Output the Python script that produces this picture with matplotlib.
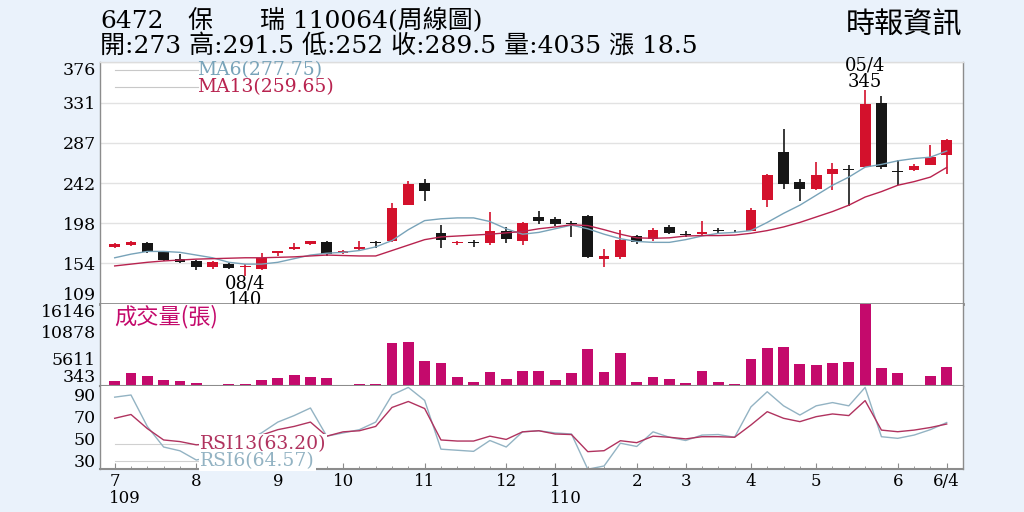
import numpy as np
import matplotlib as mpl
from matplotlib import pyplot as plt

plt.rcParams['font.family'] = ['DejaVu Serif', 'Noto Sans CJK TC']
plt.rcParams['axes.linewidth'] = 1.0

# weekly candles, 2020/07 .. 2021/06/04
opens = [172, 174, 176, 166, 158.5, 156, 150, 153.5, 150, 148, 165, 169.5, 175, 177.5, 165, 170,
         176.5, 178, 218.5, 242, 187, 176.5, 177, 176, 190, 178, 205, 202.5, 198, 206, 159, 160.5,
         183.5, 180.5, 194.5, 186, 186, 190.5, 189.5, 190, 224, 276.5, 243.5, 235.5, 252.5, 257.5,
         260.5, 330.5, 255.5, 257, 262.5, 273]
highs = [176, 179, 177, 166.5, 164, 157, 156, 154, 153, 165, 168, 176, 179, 178.5, 168.5, 179,
         178, 220, 245, 247, 196, 179, 180, 210, 194, 200, 212, 205.5, 201, 207, 170, 191,
         185, 193, 196, 190, 201, 193, 191, 215, 252, 302, 247, 266, 265, 262,
         345, 338, 268, 264, 284.5, 291.5]
lows = [171, 173.5, 165, 156, 154, 147, 148, 147.5, 140, 147, 162, 169, 174, 162.5, 164, 169,
        171, 177.5, 218, 222.5, 171, 174.5, 171.5, 174, 176, 174.5, 197, 195, 183, 160, 150, 159,
        175.5, 179, 186, 183, 185.5, 187, 188, 189, 216, 236, 223, 234.5, 234.5, 217,
        260, 258, 240.5, 256, 262, 252]
closes = [175, 177.5, 166.5, 157.5, 155, 150, 155, 148.5, 150.5, 160, 167, 171.5, 178, 164.5, 168, 172,
          176, 215, 241.5, 234, 180, 177, 176.5, 189, 181, 198, 201, 197, 197.5, 160.5, 161.5, 180,
          177.5, 191, 187.5, 185.5, 188.5, 190, 189, 213, 251.5, 241.5, 235.5, 251.5, 258, 257,
          330, 260.5, 255, 261.5, 271, 289.5]

ma6 = [160, 164, 167, 167, 166, 163, 160, 155, 153, 153, 155, 159, 163, 165, 166, 168,
       172, 179, 191, 201, 203, 204, 204, 200, 192, 186, 188, 192, 196, 192, 186, 181,
       178, 177, 177, 180, 184, 187, 188, 190, 199, 209, 218, 229, 240, 249,
       260, 263, 267, 269.5, 271, 277.75]
ma13 = [151, 153, 155, 156.5, 157.5, 158.5, 159, 159.5, 160, 160, 160.5, 161, 162, 163, 162.5, 162,
        162, 168, 174, 180, 183, 184, 185, 186, 187.5, 189, 192, 194, 196.5, 195.5, 191, 186,
        182, 181.5, 182, 184, 184.5, 184.5, 185, 187, 190, 194, 199, 205, 211, 218,
        227, 233, 240, 244, 249, 259.65]

volume = [1306, 2790, 2328, 1441, 1306, 863, 535, 664, 664, 1499, 1827, 2463, 2077, 1885, 343, 664,
          664, 8571, 8880, 5218, 4833, 2020, 1056, 3099, 1692, 3234, 3234, 1441, 2790, 7415, 2983, 6644,
          1172, 2077, 1692, 863, 3291, 1172, 786, 5488, 7723, 7916, 4640, 4390, 4833, 5026,
          16146, 3869, 2790, 535, 2270, 4035]

rsi6 = [88, 90, 61, 42, 38.5, 30, 33, 40, 47, 55, 65, 71, 78, 52, 55, 58,
        65, 90, 97, 85, 40, 39, 38, 48, 42, 56, 57, 55, 54, 21.5, 24.5, 45.5,
        42.5, 56, 51, 48, 53, 53.5, 51, 79, 93, 80, 71.5, 80, 83, 80,
        97, 51.5, 50, 53, 58, 64.57]
rsi13 = [68.5, 72, 59, 48.5, 47, 44, 45, 47, 50, 53, 58, 61, 65, 52, 56, 57,
         61, 78.5, 84, 77.5, 48.5, 47.5, 47.5, 52, 49, 56, 57, 54, 53.5, 37.7, 38.6, 47.8,
         46, 52, 51, 49.5, 51.5, 51.5, 51, 62.3, 74.6, 68.5, 65.4, 70, 72.5, 71,
         84.8, 57.6, 56.1, 57.6, 60, 63.20]

month_pos = [0, 5, 10, 14, 19, 24, 27, 32, 35, 39, 43, 48, 51]
month_labels = ['7', '8', '9', '10', '11', '12', '1', '2', '3', '4', '5', '6', '6/4']
year_marks = [(0, '109'), (27, '110')]

price_ticks = [109, 154, 198, 242, 287, 331, 376]
vol_ticks = [343, 5611, 10878, 16146]
rsi_ticks = [30, 50, 70, 90]

red = '#d3112c'
black = '#161616'
c_ma6 = '#78a3b9'
c_ma13 = '#b8234f'
c_vol = '#c40a6c'
c_rsi13 = '#b0335f'
c_rsi6 = '#93b3c3'
spine_c = '#8c8c8c'
bg = '#eaf2fb'

fig = plt.figure(figsize=(10.24, 5.12), dpi=100, facecolor=bg)
W, H = 1024, 512
def box(l, t, r, b):
    return [l / W, (H - b) / H, (r - l) / W, (b - t) / H]

ax = fig.add_axes(box(100, 62, 963, 304))
axv = fig.add_axes(box(100, 304, 963, 386))
axr = fig.add_axes(box(100, 386, 963, 469))

x = np.arange(len(opens))
xlim = (-0.9, 52.0)

# price panel
for i in x:
    o, h, l, c = opens[i], highs[i], lows[i], closes[i]
    col = red if c >= o else black
    ax.vlines(i, l, h, color=col, lw=1.2, zorder=3)
    ax.bar(i, max(abs(c - o), 0.9), bottom=min(o, c), width=0.66, color=col, zorder=4)
ax.plot(x, ma6, color=c_ma6, lw=1.0, zorder=5)
ax.plot(x, ma13, color=c_ma13, lw=1.0, zorder=5)
ax.set_ylim(109, 376)
ax.set_yticks(price_ticks)
ax.grid(axis='y', color='#e2e2e2', lw=1.0)
ax.set_axisbelow(True)

ax.plot([0.017, 0.113], [0.967, 0.967], transform=ax.transAxes, color='#c8c8c8', lw=0.8)
ax.plot([0.017, 0.113], [0.897, 0.897], transform=ax.transAxes, color='#c8c8c8', lw=0.8)
ax.text(0.113, 0.967, 'MA6(277.75)', transform=ax.transAxes, color=c_ma6, fontsize=13.5, va='center')
ax.text(0.113, 0.897, 'MA13(259.65)', transform=ax.transAxes, color=c_ma13, fontsize=13.5, va='center')

ax.text(46, 363, '05/4\n345', ha='center', va='center', fontsize=13, linespacing=0.95, clip_on=False)
ax.text(8, 122.5, '08/4\n140', ha='center', va='center', fontsize=13, linespacing=0.95, clip_on=False)

# volume panel
axv.bar(x, np.array(volume) - vol_ticks[0], bottom=vol_ticks[0], width=0.66, color=c_vol)
axv.set_ylim(vol_ticks[0], vol_ticks[-1])
axv.set_yticks(vol_ticks)
axv.text(0.017, 0.85, '成交量(張)', transform=axv.transAxes, color=c_vol, fontsize=16,
         va='center', family=['Noto Sans CJK TC'])

# rsi panel
axr.plot(x, rsi6, color=c_rsi6, lw=1.0)
axr.plot(x, rsi13, color=c_rsi13, lw=1.0)
axr.set_ylim(21.7, 98.3)
axr.set_yticks(rsi_ticks)
axr.plot([0.017, 0.116], [0.30, 0.30], transform=axr.transAxes, color='#d0d0d0', lw=0.8, zorder=1)
axr.plot([0.017, 0.116], [0.096, 0.096], transform=axr.transAxes, color='#d0d0d0', lw=0.8, zorder=1)
axr.text(0.116, 0.30, 'RSI13(63.20)', transform=axr.transAxes, color=c_rsi13, fontsize=13.5,
         va='center', zorder=6, bbox=dict(facecolor='white', edgecolor='none', pad=0.5))
axr.text(0.116, 0.096, 'RSI6(64.57)', transform=axr.transAxes, color=c_rsi6, fontsize=13.5,
         va='center', zorder=6, bbox=dict(facecolor='white', edgecolor='none', pad=0.5))

for a in (ax, axv, axr):
    a.set_xlim(*xlim)
    a.set_facecolor('white')
    for s in a.spines.values():
        s.set_color(spine_c)
    a.spines['top'].set_visible(False)
    a.tick_params(axis='y', length=0, labelsize=12.5, pad=3)
    a.tick_params(axis='x', length=0)
ax.spines['top'].set_visible(True)
ax.spines['top'].set_color('#dddddd')
ax.spines['bottom'].set_linewidth(2.0)
axv.spines['bottom'].set_linewidth(1.5)
axr.spines['bottom'].set_linewidth(1.5)

# keep the end labels inside their panel
for a in (ax, axv):
    labs = a.get_yticklabels()
    labs[0].set_va('bottom')
    labs[-1].set_va('top')

ax.set_xticks([])
axv.set_xticks([])
axr.set_xticks(month_pos)
axr.set_xticklabels(month_labels)
axr.set_xticks(x, minor=True)
axr.tick_params(axis='x', which='major', direction='in', length=4, color=spine_c, labelsize=12, pad=3)
axr.tick_params(axis='x', which='minor', direction='in', length=2, color=spine_c)
for pos, yr in year_marks:
    axr.text(pos - 0.35, -0.36, yr, transform=axr.get_xaxis_transform(), fontsize=12, ha='left', va='center')

# header
fig.text(100 / W, 1 - 21 / H, '6472', fontsize=18, va='center')
fig.text(187 / W, 1 - 21 / H, '保', fontsize=18, va='center')
fig.text(260 / W, 1 - 21 / H, '瑞 110064(周線圖)', fontsize=18, va='center')
fig.text(100 / W, 1 - 46 / H, '開:273 高:291.5 低:252 收:289.5 量:4035 漲 18.5', fontsize=18, va='center')
fig.text(962 / W, 1 - 25 / H, '時報資訊', fontsize=21, va='center', ha='right', family=['Noto Sans CJK TC'])

fig.savefig('out.png', dpi=100, facecolor=bg)
